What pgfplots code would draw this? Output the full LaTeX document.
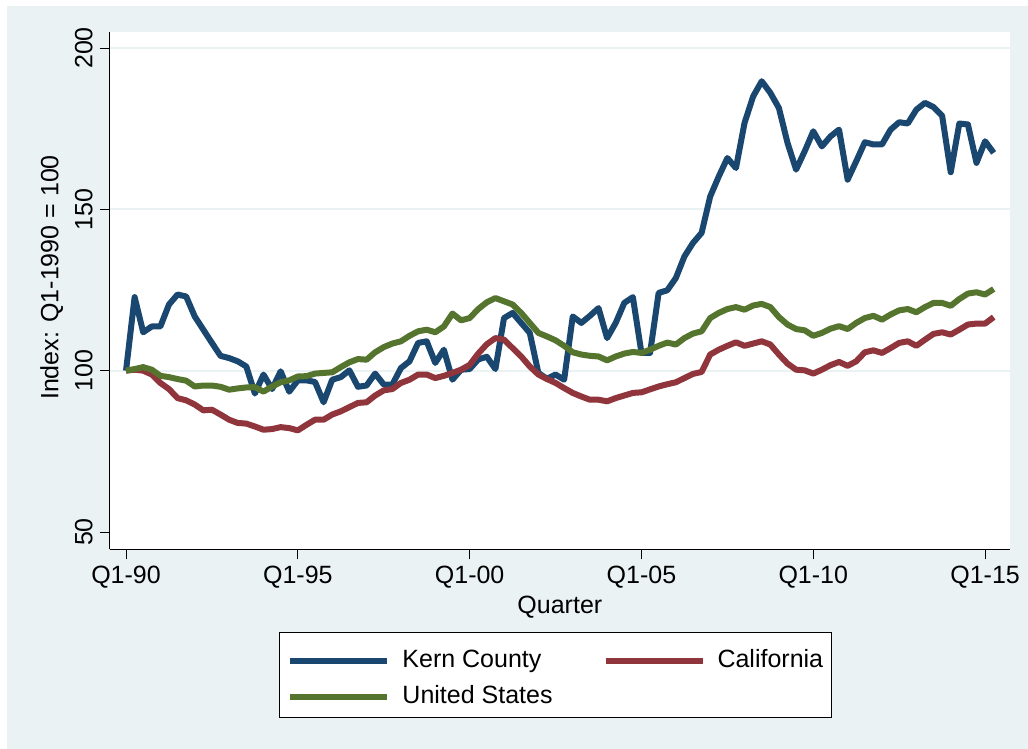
\documentclass[border=0pt]{standalone}
\usepackage{fontspec}
\setmainfont{Liberation Sans}
\usepackage{pgfplots}
\usepackage{pgfplotstable}
\pgfplotsset{compat=1.18}
\definecolor{bgc}{RGB}{234,242,243}
\definecolor{kern}{RGB}{26,71,111}
\definecolor{cal}{RGB}{144,53,59}
\definecolor{usa}{RGB}{85,117,47}
\pgfplotstableread{
q K C U
0 100 100 100
1 122.8 100.3 100.5
2 111.9 100.0 101.1
3 113.7 98.8 100.3
4 113.7 96.2 98.4
5 120.5 94.3 98.0
6 123.6 91.5 97.4
7 123.0 90.8 96.9
8 116.8 89.5 95.1
9 112.7 87.7 95.4
10 108.6 87.9 95.4
11 104.6 86.4 95.0
12 103.9 84.8 94.1
13 102.9 83.8 94.5
14 101.3 83.6 94.8
15 92.9 82.7 94.9
16 98.8 81.7 93.5
17 94.3 81.9 95.1
18 99.8 82.5 96.4
19 93.5 82.2 97.0
20 97.0 81.5 98.2
21 97.0 83.2 98.3
22 96.5 84.8 99.1
23 90.2 84.8 99.3
24 97.2 86.4 99.5
25 98.0 87.4 101.1
26 100.1 88.7 102.6
27 95.0 90.0 103.6
28 95.4 90.2 103.4
29 99.1 92.3 105.7
30 95.7 93.9 107.3
31 95.7 94.3 108.4
32 100.8 96.2 109.1
33 102.9 97.2 110.8
34 108.6 98.8 112.2
35 109.1 98.8 112.7
36 102.4 97.7 111.9
37 106.5 98.4 113.7
38 97.2 99.3 117.7
39 100.3 100.3 115.6
40 100.5 101.8 116.3
41 103.5 105.3 119.1
42 104.3 108.2 121.2
43 100.5 110.1 122.5
44 116.3 109.6 121.5
45 117.9 107.0 120.5
46 114.8 104.4 117.9
47 111.7 101.3 114.8
48 99.3 98.8 111.7
49 97.5 97.4 110.6
50 98.8 96.2 109.4
51 97.2 94.6 107.7
52 116.8 93.1 105.7
53 114.8 92.0 105.0
54 117.0 91.0 104.6
55 119.4 91.0 104.4
56 110.1 90.5 103.2
57 114.8 91.5 104.4
58 121.0 92.3 105.3
59 122.8 93.1 105.8
60 105.5 93.3 105.5
61 105.5 94.2 106.5
62 124.1 95.1 107.7
63 124.9 95.8 108.7
64 128.7 96.4 108.1
65 135.4 97.7 110.1
66 139.6 99.0 111.5
67 142.7 99.6 112.2
68 154.0 105.0 116.3
69 160.2 106.5 117.9
70 165.9 107.7 119.1
71 162.8 108.8 119.7
72 176.8 107.7 118.9
73 185.0 108.4 120.2
74 189.7 109.1 120.7
75 186.1 108.1 119.7
76 181.4 105.0 116.6
77 170.6 102.2 114.3
78 162.3 100.3 112.9
79 168.0 100.1 112.5
80 174.2 99.1 110.8
81 169.5 100.3 111.7
82 172.6 101.7 113.0
83 174.7 102.7 113.8
84 159.2 101.5 112.9
85 164.9 102.9 114.8
86 170.8 105.7 116.3
87 170.1 106.3 117.0
88 170.1 105.5 115.8
89 174.7 107.0 117.4
90 177.0 108.6 118.7
91 176.6 109.1 119.1
92 180.9 107.7 118.1
93 183.0 109.6 119.7
94 181.7 111.4 121.0
95 179.0 111.9 121.0
96 161.5 111.2 120.1
97 176.6 112.7 122.2
98 176.3 114.3 123.9
99 164.4 114.6 124.3
100 171.1 114.6 123.6
101 167.5 116.6 125.3
}\data
\begin{document}
\begin{tikzpicture}[font=\fontsize{12.5bp}{15bp}\selectfont]
\fill[white] (-54.85bp,-99.85bp) rectangle (459.15bp,274.65bp);
\fill[bgc] (-51.35bp,-99.85bp) rectangle (459.15bp,271.65bp);
\begin{axis}[
  at={(0,0)}, anchor=south west,
  scale only axis, width=450.15bp, height=258.65bp,
  xmin=-1.9, xmax=102.9, ymin=44.64, ymax=204.96,
  axis background/.style={fill=white},
  axis x line*=bottom, axis y line*=left,
  axis line style={black, line width=0.6bp, -},
  tick align=outside, major tick length=5bp,
  tick style={black, line width=0.5bp},
  xtick={0,20,40,60,80,100},
  xticklabels={Q1-90,Q1-95,Q1-00,Q1-05,Q1-10,Q1-15},
  ytick={50,100,150,200},
  yticklabels={50,100,150,200},
  extra y ticks={100,150,200},
  extra y tick labels={},
  extra y tick style={ymajorgrids=true, major tick length=0pt},
  grid style={bgc, line width=1bp},
  yticklabel style={rotate=90, anchor=south},
  xticklabel style={anchor=north},
  xlabel={Quarter},
  ylabel={Index: Q1-1990 = 100},
  x label style={at={([yshift=-32bp]axis description cs:0.5,0)}, anchor=base, inner sep=0pt},
  y label style={at={([xshift=-25.7bp]axis description cs:0,0.5254)}, rotate=0, anchor=base, inner sep=0pt},
  legend columns=2,
  legend cell align=left,
  legend image code/.code={\draw[#1] (0bp,3.4bp) -- (48.5bp,3.4bp);},
  legend style={at={(axis description cs:0.188,-0.16)}, anchor=north west,
    draw=black, line width=0.5bp, fill=white,
    inner xsep=4bp, inner ysep=6.5bp, row sep=6.5bp,
    nodes={inner sep=0pt, text height=11bp, text depth=0.5bp, anchor=base west},
    /tikz/every odd column/.append style={column sep=6bp},
    /tikz/every even column/.append style={column sep=25bp}},
  every axis plot/.append style={line width=3bp, line join=round},
]
\addplot[kern] table[x=q, y=K] {\data};
\addlegendentry{Kern County}
\addplot[cal] table[x=q, y=C] {\data};
\addlegendentry{California}
\addplot[usa] table[x=q, y=U] {\data};
\addlegendentry{United States}
\end{axis}
\end{tikzpicture}
\end{document}
